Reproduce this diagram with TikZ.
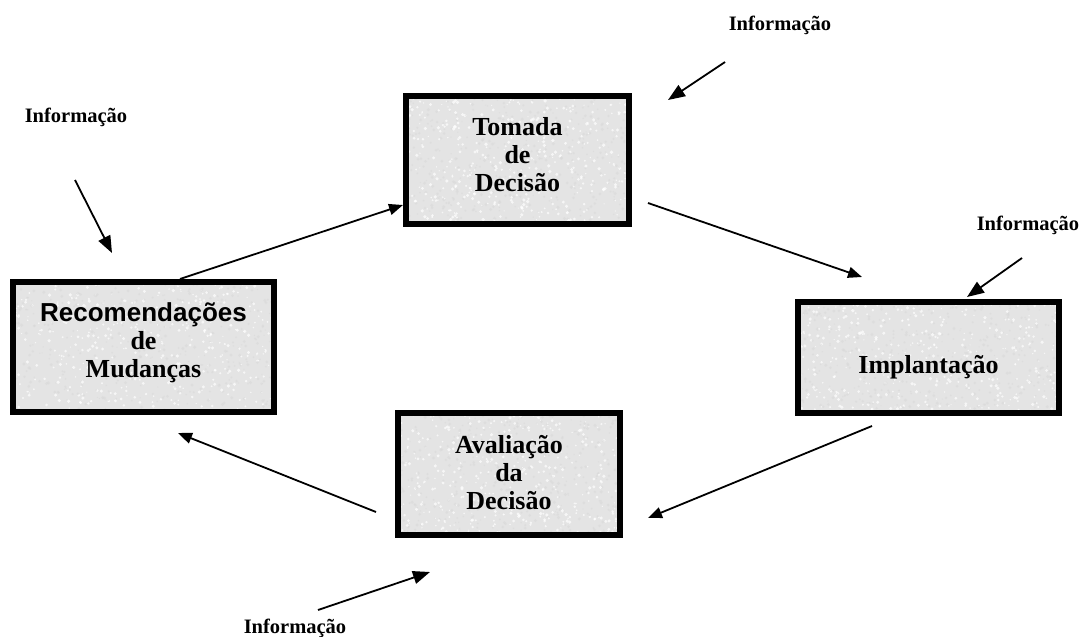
\documentclass[tikz,border=0pt]{standalone}
\usepackage{fontspec}
\setmainfont{Liberation Serif}
\newfontfamily\recsans{Liberation Sans}
\usetikzlibrary{arrows.meta,calc,backgrounds}

% granite-like fill for a box given by its corners
\newcommand\granite[4]{%
  \fill[boxfill] (#1,#2) rectangle (#3,#4);
  \foreach \k in {1,...,420}{%
    \fill[gray!30,opacity=.55] ({#1+rnd*(#3-#1)},{#2+rnd*(#4-#2)}) circle ({0.6+rnd*1.2});
    \fill[white,opacity=.7] ({#1+rnd*(#3-#1)},{#2+rnd*(#4-#2)}) circle ({0.6+rnd*1.2});
  }%
}

\definecolor{boxfill}{HTML}{E4E4E4}

\begin{document}
\begin{tikzpicture}[x=1pt,y=-1pt,
  stage/.style={draw=black,line width=6pt,inner sep=0pt},
  caption/.style={align=center,inner sep=0pt,
    font=\fontsize{26}{28}\selectfont\bfseries},
  flow/.style={line width=1.8pt,-{Triangle[length=14pt,width=11pt]}},
  infoarrow/.style={line width=1.8pt,-{Triangle[length=17pt,width=13pt]}},
  infolabel/.style={font=\fontsize{20.5}{24}\selectfont\bfseries,anchor=base,inner sep=0pt},
]
\useasboundingbox (0,0) rectangle (1082,637);
\pgfmathsetseed{4711}

% the four stages of the cycle
\node[stage,minimum width=223pt,minimum height=128pt] (tom) at (517.5,160) {};
\node[stage,minimum width=261pt,minimum height=130pt] (rec) at (143.5,347) {};
\node[stage,minimum width=261pt,minimum height=111pt] (imp) at (928.5,357.5) {};
\node[stage,minimum width=222pt,minimum height=122pt] (ava) at (509,474) {};

\node[caption] (tomtxt) at (517.5,155) {Tomada\\de\\Decisão};
\node[caption] (rectxt) at (143.5,343) {{\recsans Recomendações}\\de\\Mudanças};
\node[caption] (imptxt) at (928.5,367) {Implantação};
\node[caption] (avatxt) at (509,473) {Avaliação\\da\\Decisão};

% textured fills behind the stages
\begin{scope}[on background layer]
  \granite{406}{96}{629}{224}
  \granite{13}{282}{274}{412}
  \granite{798}{302}{1059}{413}
  \granite{398}{413}{620}{535}
\end{scope}

% ends of the cycle arrows
\coordinate (r2t) at (180,279);
\coordinate (t2r) at (403,205);
\coordinate (t2i) at (648,203);
\coordinate (i2t) at (862,277);
\coordinate (i2a) at (872,426);
\coordinate (a2i) at (648,518);
\coordinate (a2r) at (376,512);
\coordinate (r2a) at (178,433);

\draw[flow] (r2t) -- (t2r);
\draw[flow] (t2i) -- (i2t);
\draw[flow] (i2a) -- (a2i);
\draw[flow] (a2r) -- (r2a);

% incoming information
\node[infolabel] (inf1) at (780,30) {Informação};
\node[infolabel] (inf2) at (76,122) {Informação};
\node[infolabel] (inf3) at (1028,230) {Informação};
\node[infolabel] (inf4) at (295,633) {Informação};

\coordinate (i1s) at (725,62);  \coordinate (i1e) at (668,100);
\coordinate (i2s) at (75,180);  \coordinate (i2e) at (112,253);
\coordinate (i3s) at (1022,258); \coordinate (i3e) at (967,297);
\coordinate (i4s) at (318,610); \coordinate (i4e) at (430,572);

\draw[infoarrow] (i1s) -- (i1e);
\draw[infoarrow] (i2s) -- (i2e);
\draw[infoarrow] (i3s) -- (i3e);
\draw[infoarrow] (i4s) -- (i4e);
\end{tikzpicture}
\end{document}
